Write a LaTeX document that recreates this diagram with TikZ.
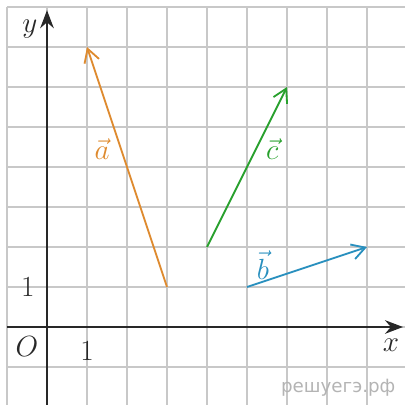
\documentclass[tikz,border=0pt]{standalone}
\usepackage{fontspec}
\newfontfamily\wmfont{DejaVu Sans}
\usetikzlibrary{arrows.meta}
\definecolor{vorange}{RGB}{222,138,46}
\definecolor{vgreen}{RGB}{40,160,45}
\definecolor{vblue}{RGB}{40,143,190}
\definecolor{gridc}{RGB}{200,200,200}
\definecolor{axisc}{RGB}{40,40,40}
\tikzset{
  gridline/.style={draw=gridc, line width=1pt},
  axis/.style={draw=axisc, line width=1.4pt, -{Stealth[length=4.5mm,width=3.4mm]}},
  vecarrow/.style={line width=1.3pt, -{Straight Barb[length=3.3mm,width=3.8mm]}},
  lbl/.style={font=\fontsize{22}{26}\selectfont, text=axisc, inner sep=0pt},
}
\begin{document}
\begin{tikzpicture}
\useasboundingbox (-1.175,-1.95) rectangle (8.95,8.175);
\draw[gridline] (-1,-1.95) grid (8.95,8);
\coordinate (xs) at (-1,0);
\coordinate (xe) at (8.9,0);
\coordinate (ys) at (0,-1.95);
\coordinate (ye) at (0,7.92);
\draw[axis] (xs) -- (xe);
\draw[axis] (ys) -- (ye);
\node[lbl] (ylab) at (-0.43,7.45) {$y$};
\node[lbl] (xlab) at (8.6,-0.45) {$x$};
\node[lbl] (olab) at (-0.5,-0.5) {$O$};
\node[lbl] (onex) at (1,-0.6) {$1$};
\node[lbl] (oney) at (-0.48,1) {$1$};
% vectors
\coordinate (a1) at (3,1);
\coordinate (a2) at (1,7);
\coordinate (c1) at (4,2);
\coordinate (c2) at (6,6);
\coordinate (b1) at (5,1);
\coordinate (b2) at (8,2);
\draw[vecarrow, vorange] (a1) -- (a2);
\draw[vecarrow, vgreen] (c1) -- (c2);
\draw[vecarrow, vblue] (b1) -- (b2);
\node[lbl, text=vorange] (alab) at (1.38,4.45) {$\vec{a}$};
\node[lbl, text=vgreen] (clab) at (5.63,4.45) {$\vec{c}$};
\node[lbl, text=vblue] (blab) at (5.4,1.55) {$\vec{b}$};
\node[inner sep=0pt, text=gridc!90!black, font=\wmfont\fontsize{13}{15}\selectfont] (wm) at (7.28,-1.53) {решуегэ.рф};
\end{tikzpicture}
\end{document}
